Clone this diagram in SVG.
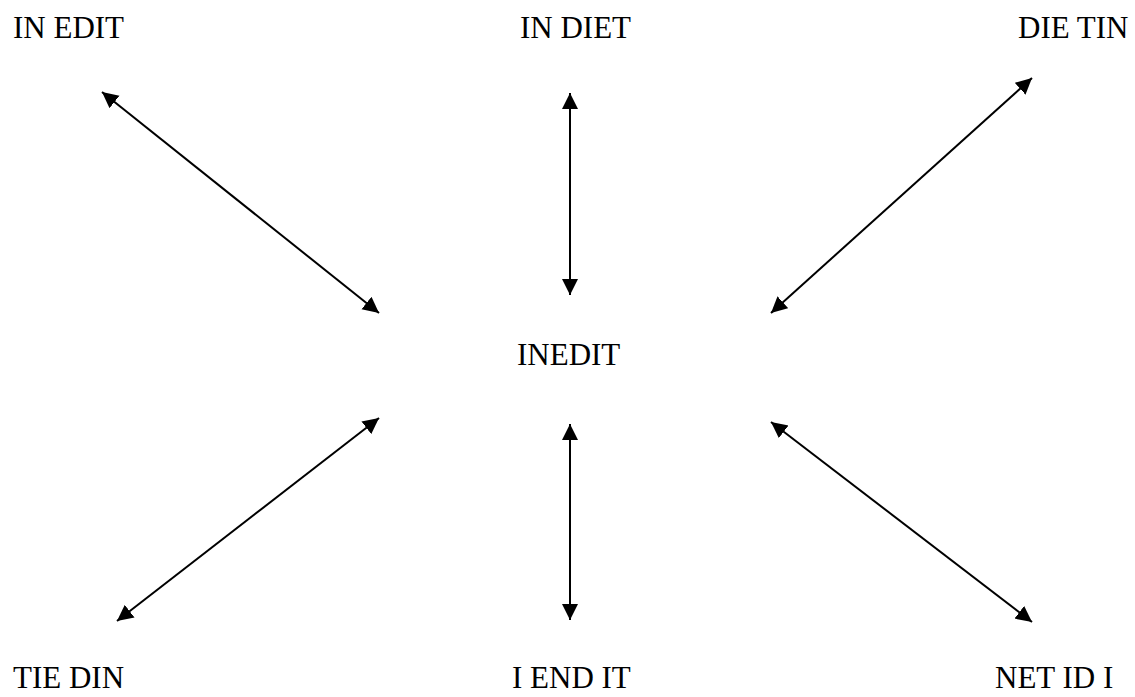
<svg xmlns="http://www.w3.org/2000/svg" width="1135" height="697" viewBox="0 0 1135 697">
<style>
text{font-family:"Liberation Serif","Times New Roman",serif;font-size:31px;fill:#000}
.c line{stroke:#000;stroke-width:2;marker-start:url(#ah);marker-end:url(#ah)}
</style>
<defs>
<marker id="ah" markerUnits="userSpaceOnUse" markerWidth="17" markerHeight="17" refX="16" refY="8" orient="auto-start-reverse" viewBox="0 0 17 17">
<path d="M0,0 L16,8 L0,16 Z" fill="#000"/>
</marker>
</defs>
<rect width="1135" height="697" fill="#fff"/>
<g class="c" id="connectors">
<line x1="102" y1="92" x2="379" y2="313"/>
<line x1="570" y1="93" x2="570" y2="295"/>
<line x1="1032" y1="78" x2="771" y2="313"/>
<line x1="379" y1="418" x2="117" y2="621"/>
<line x1="570" y1="424" x2="570" y2="620"/>
<line x1="771" y1="422" x2="1032" y2="622"/>
</g>
<g id="n-center"><text x="517" y="365">INEDIT</text></g>
<g id="n-tl"><text x="13" y="38">IN EDIT</text></g>
<g id="n-tc"><text x="520" y="38">IN DIET</text></g>
<g id="n-tr"><text x="1018" y="38">DIE TIN</text></g>
<g id="n-bl"><text x="13" y="688">TIE DIN</text></g>
<g id="n-bc"><text x="512" y="688">I END IT</text></g>
<g id="n-br"><text x="995" y="688">NET ID I</text></g>
</svg>
